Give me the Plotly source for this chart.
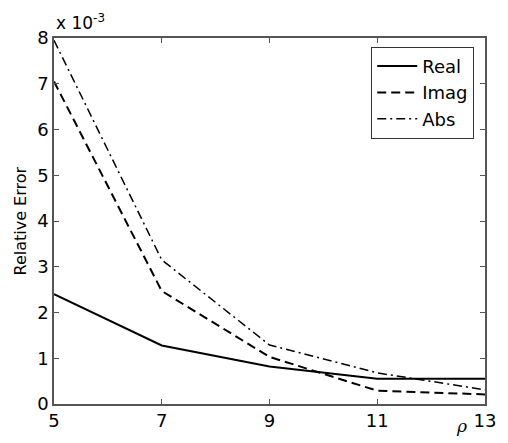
import plotly.graph_objects as go

# rho values
rho = [5, 7, 9, 11, 13]
# Relative error values, in units of 1e-3
real_err = [2.40, 1.28, 0.82, 0.55, 0.55]
imag_err = [7.05, 2.47, 1.03, 0.29, 0.21]
abs_err = [7.95, 3.15, 1.29, 0.68, 0.31]

x_ticks = [5, 7, 9, 11, 13]
y_ticks = [0, 1, 2, 3, 4, 5, 6, 7, 8]

FONT = "DejaVu Sans"
fig = go.Figure()
fig.add_trace(go.Scatter(x=rho, y=real_err, mode="lines", name="Real",
                         line=dict(color="black", width=2, dash="solid")))
fig.add_trace(go.Scatter(x=rho, y=imag_err, mode="lines", name="Imag",
                         line=dict(color="black", width=2, dash="9px,5px")))
fig.add_trace(go.Scatter(x=rho, y=abs_err, mode="lines", name="Abs",
                         line=dict(color="black", width=1.5, dash="9px,4px,2px,4px")))

axis_common = dict(showline=True, linecolor="#555", linewidth=1.5, mirror="ticks",
                   ticks="inside", ticklen=5, tickcolor="#555", showgrid=False,
                   zeroline=False, tickfont=dict(family=FONT, size=18, color="black"))

fig.update_xaxes(range=[5, 13], tickvals=x_ticks, ticktext=[str(v) for v in x_ticks], **axis_common)
fig.update_yaxes(range=[0, 8], tickvals=y_ticks, ticktext=[str(v) for v in y_ticks], **axis_common)

fig.update_layout(
    width=508, height=443,
    margin=dict(l=54, r=15, t=38, b=33),
    plot_bgcolor="white", paper_bgcolor="white",
    font=dict(family=FONT, color="black"),
    legend=dict(x=0.736, y=0.976, xanchor="left", yanchor="top",
                bordercolor="#333", borderwidth=1, bgcolor="white",
                font=dict(family=FONT, size=18, color="black"),
                itemwidth=40, tracegroupgap=0),
    annotations=[
        dict(text="x 10<sup>-3</sup>", x=0, y=1, xref="paper", yref="paper",
             xanchor="left", yanchor="bottom", showarrow=False, yshift=3,
             font=dict(family=FONT, size=17)),
        dict(text="Relative Error", x=-0.08, y=0.5, xref="paper", yref="paper",
             xanchor="center", yanchor="middle", showarrow=False, textangle=-90,
             font=dict(family=FONT, size=16)),
        dict(text="<i>ρ</i>", x=0.945, y=-0.06, xref="paper", yref="paper",
             xanchor="center", yanchor="middle", showarrow=False,
             font=dict(family="DejaVu Serif", size=17)),
    ],
)

fig.write_html("out.html")
